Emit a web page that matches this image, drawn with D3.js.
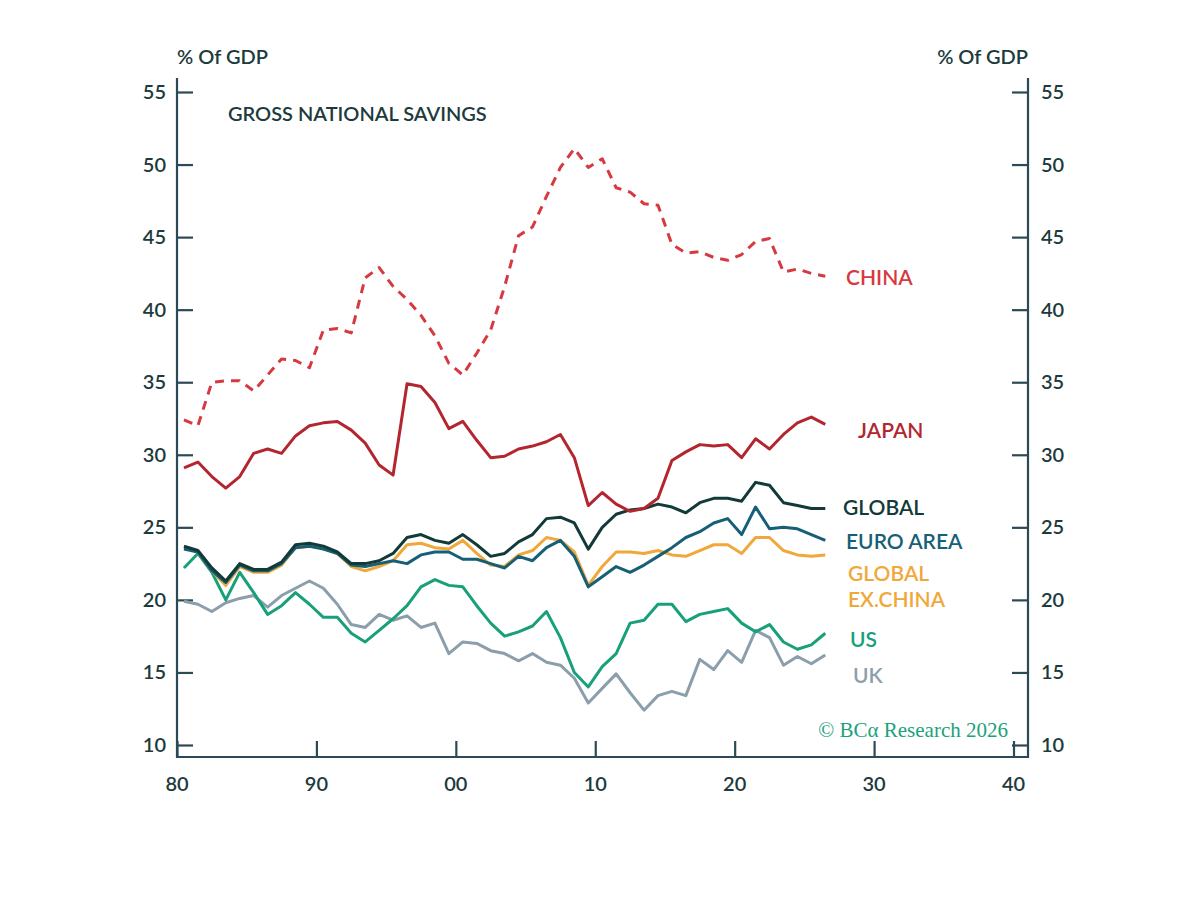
<!DOCTYPE html>
<html><head><meta charset="utf-8">
<script src="https://cdn.jsdelivr.net/npm/d3@7"></script>
<style>body{margin:0;background:#fff}svg{display:block;font-family:Lato,"Open Sans",sans-serif}</style>
</head><body><svg id="c" width="1200" height="909"></svg>
<script>
const years = d3.range(1980, 2027);
const china = [32.4,32.0,35.0,35.1,35.1,34.4,35.5,36.6,36.5,36.0,38.6,38.7,38.4,42.2,42.9,41.6,40.7,39.6,38.2,36.3,35.5,37.0,38.6,41.6,45.1,45.7,47.8,49.8,51.1,49.8,50.4,48.4,48.1,47.3,47.2,44.5,43.9,44.0,43.6,43.4,43.8,44.7,44.9,42.6,42.8,42.5,42.3];
const japan = [29.1,29.5,28.5,27.7,28.5,30.1,30.4,30.1,31.3,32.0,32.2,32.3,31.7,30.8,29.3,28.6,34.9,34.7,33.6,31.8,32.3,31.0,29.8,29.9,30.4,30.6,30.9,31.4,29.8,26.5,27.4,26.6,26.1,26.3,27.0,29.6,30.2,30.7,30.6,30.7,29.8,31.1,30.4,31.4,32.2,32.6,32.1];
const global = [23.7,23.4,22.2,21.3,22.5,22.1,22.1,22.6,23.8,23.9,23.7,23.3,22.5,22.5,22.7,23.2,24.3,24.5,24.1,23.9,24.5,23.8,23.0,23.2,24.0,24.5,25.6,25.7,25.3,23.5,25.0,25.9,26.2,26.3,26.6,26.4,26.0,26.7,27.0,27.0,26.8,28.1,27.9,26.7,26.5,26.3,26.3];
const euroArea = [23.5,23.3,22.0,21.2,22.4,22.0,22.0,22.5,23.6,23.7,23.5,23.2,22.4,22.3,22.5,22.7,22.5,23.1,23.3,23.3,22.8,22.8,22.5,22.2,23.0,22.7,23.6,24.1,23.0,20.9,21.6,22.3,21.9,22.4,23.0,23.6,24.3,24.7,25.3,25.6,24.5,26.4,24.9,25.0,24.9,24.5,24.1];
const globalExChina = [23.6,23.3,22.0,21.0,22.3,21.9,21.9,22.4,23.6,23.7,23.6,23.2,22.3,22.0,22.3,22.7,23.8,23.9,23.6,23.5,24.1,23.2,22.4,22.3,23.1,23.4,24.3,24.1,23.3,21.0,22.3,23.3,23.3,23.2,23.4,23.1,23.0,23.4,23.8,23.8,23.2,24.3,24.3,23.4,23.1,23.0,23.1];
const us = [22.2,23.2,21.9,20.0,21.9,20.5,19.0,19.6,20.5,19.7,18.8,18.8,17.7,17.1,17.9,18.7,19.6,20.9,21.4,21.0,20.9,19.6,18.4,17.5,17.8,18.2,19.2,17.4,15.0,14.0,15.4,16.3,18.4,18.6,19.7,19.7,18.5,19.0,19.2,19.4,18.4,17.8,18.3,17.1,16.6,16.9,17.7];
const uk = [19.9,19.7,19.2,19.8,20.1,20.3,19.5,20.3,20.8,21.3,20.8,19.7,18.3,18.1,19.0,18.6,18.9,18.1,18.4,16.3,17.1,17.0,16.5,16.3,15.8,16.3,15.7,15.5,14.6,12.9,13.9,14.9,13.6,12.4,13.4,13.7,13.4,15.9,15.2,16.5,15.7,17.9,17.4,15.5,16.1,15.6,16.2];
const yTicks = [10,15,20,25,30,35,40,45,50,55];
const xTicks = [1980,1990,2000,2010,2020,2030,2040];
const xTickLabels = ["80","90","00","10","20","30","40"];

const series = [
 {name:["CHINA"], v:china, c:"#d63a40", dash:"9,7", lx:846, ly:285},
 {name:["JAPAN"], v:japan, c:"#b3262f", lx:858, ly:438},
 {name:["GLOBAL"], v:global, c:"#113a38", lx:843, ly:515},
 {name:["EURO AREA"], v:euroArea, c:"#165f77", lx:846, ly:549},
 {name:["GLOBAL","EX.CHINA"], v:globalExChina, c:"#f0a83a", lx:848, ly:581},
 {name:["US"], v:us, c:"#17a07a", lx:850, ly:647},
 {name:["UK"], v:uk, c:"#8b9eab", lx:853, ly:683}
];

const svg = d3.select("#c");
const L=177, R=1028, B=757, T=78;
const x = d3.scaleLinear().domain([1980,2040]).range([177,1013.5]);
const y = d3.scaleLinear().domain([10,55]).range([745,92]);
const axc = "#2b4a55", txc = "#1d3a3c";

svg.append("path").attr("d",`M${L},${T}V${B}H${R}V${T}`).attr("fill","none").attr("stroke",axc).attr("stroke-width",2.2);
const yl = svg.append("g").attr("transform",`translate(${L},0)`).call(d3.axisRight(y).tickValues(yTicks).tickSize(16).tickFormat(""));
const yr = svg.append("g").attr("transform",`translate(${R},0)`).call(d3.axisLeft(y).tickValues(yTicks).tickSize(16).tickFormat(""));
const xa = svg.append("g").attr("transform",`translate(0,${B})`).call(d3.axisTop(x).tickValues(xTicks).tickSize(16).tickFormat(""));
[yl,yr,xa].forEach(g=>{g.select(".domain").remove();g.selectAll("line").attr("stroke",axc).attr("stroke-width",2.2);});
const fs = 20, fw = 600;
yTicks.forEach(t=>{
  svg.append("text").attr("x",166).attr("y",y(t)+7).attr("text-anchor","end").attr("font-size",fs).attr("font-weight",fw).attr("fill",txc).text(t);
  svg.append("text").attr("x",1041).attr("y",y(t)+7).attr("text-anchor","start").attr("font-size",fs).attr("font-weight",fw).attr("fill",txc).text(t);
});
xTicks.forEach((t,i)=>{
  svg.append("text").attr("x",x(t)).attr("y",791).attr("text-anchor","middle").attr("font-size",fs).attr("font-weight",fw).attr("fill",txc).text(xTickLabels[i]);
});
svg.append("text").attr("x",177).attr("y",64).attr("font-size",fs).attr("font-weight",fw).attr("fill",txc).text("% Of GDP");
svg.append("text").attr("x",1028).attr("y",64).attr("text-anchor","end").attr("font-size",fs).attr("font-weight",fw).attr("fill",txc).text("% Of GDP");
svg.append("text").attr("x",228).attr("y",121).attr("font-size",20).attr("font-weight",600).attr("fill",txc).text("GROSS NATIONAL SAVINGS");

const line = d3.line().x((d,i)=>x(years[i]+0.5)).y(d=>y(d));
[...series].reverse().forEach(s=>{
  svg.append("path").datum(s.v).attr("d",line).attr("fill","none").attr("stroke",s.c)
    .attr("stroke-width",3).attr("stroke-linejoin","round").attr("stroke-dasharray",s.dash||null);
  s.name.forEach((n,k)=>svg.append("text").attr("x",s.lx).attr("y",s.ly+k*26).attr("font-size",21).attr("font-weight",600).attr("fill",s.c).text(n));
});
svg.append("text").attr("x",1008).attr("y",737).attr("text-anchor","end").attr("font-size",21)
  .attr("font-family","'Liberation Serif','DejaVu Serif',serif").attr("fill","#1aa27c").text("© BCα Research 2026");
</script></body></html>
